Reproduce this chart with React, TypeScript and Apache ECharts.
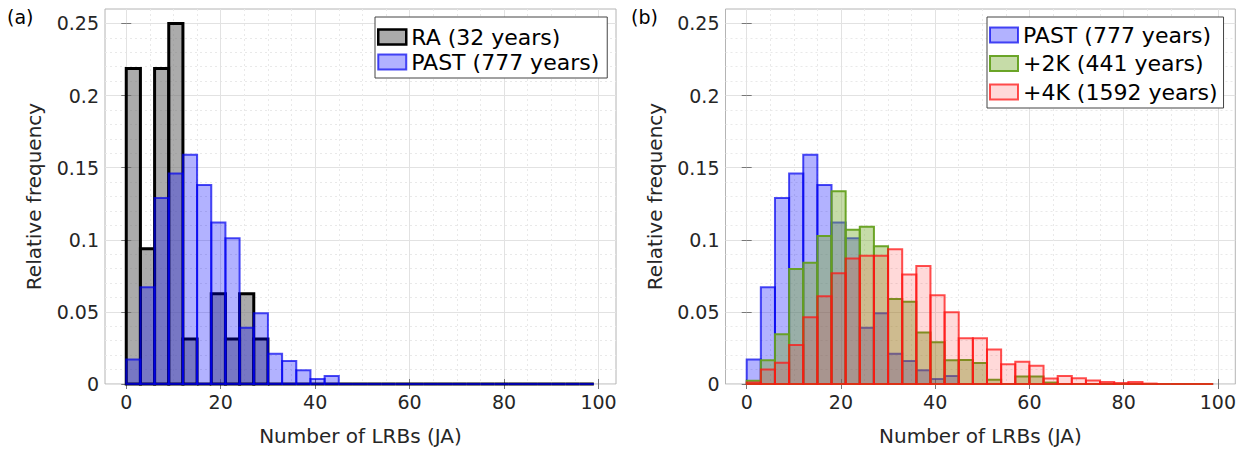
import React, { useEffect, useRef } from 'react';
import * as echarts from 'echarts';

// Bin width of the histograms (number of LRBs)
const BIN_WIDTH = 3;

// Panel (a)
const RA = [
  0.21875, 0.09375, 0.21875, 0.25, 0.03125, 0, 0.0625, 0.03125, 0.0625, 0.03125,
  0, 0, 0, 0, 0, 0, 0, 0, 0, 0, 0, 0, 0, 0, 0, 0, 0, 0, 0, 0, 0, 0, 0,
];
const PAST = [
  0.017, 0.067, 0.129, 0.146, 0.159, 0.138, 0.112, 0.101, 0.039, 0.049,
  0.021, 0.016, 0.0095, 0.0034, 0.0056, 0, 0, 0, 0, 0, 0, 0, 0, 0, 0, 0, 0, 0, 0, 0, 0, 0, 0,
];
// Panel (b)
const K2 = [
  0.0023, 0.0165, 0.0345, 0.0797, 0.0841, 0.1027, 0.1336, 0.107, 0.109, 0.0955,
  0.059, 0.057, 0.0357, 0.029, 0.0165, 0.0166, 0.0146, 0.003, 0, 0.0052,
  0.0052, 0.001, 0, 0, 0, 0, 0, 0, 0, 0, 0, 0, 0,
];
const K4 = [
  0.001, 0.0101, 0.0147, 0.027, 0.0463, 0.0608, 0.0768, 0.087, 0.089, 0.089,
  0.0935, 0.076, 0.0818, 0.0615, 0.0497, 0.0318, 0.0318, 0.0239, 0.0137, 0.0155,
  0.0126, 0.0038, 0.0056, 0.004, 0.0025, 0.0014, 0.0007, 0.0014, 0.0003, 0, 0, 0, 0,
];

const X_TICKS = [0, 20, 40, 60, 80, 100];
const X_MINOR = [5, 10, 15, 25, 30, 35, 45, 50, 55, 65, 70, 75, 85, 90, 95];
const Y_TICKS = [0, 0.05, 0.1, 0.15, 0.2, 0.25];
const Y_MINOR = [
  0.01, 0.02, 0.03, 0.04, 0.06, 0.07, 0.08, 0.09, 0.11, 0.12, 0.13, 0.14,
  0.16, 0.17, 0.18, 0.19, 0.21, 0.22, 0.23, 0.24,
];

const NAMES = {
  ra: 'RA (32 years)',
  past: 'PAST (777 years)',
  k2: '+2K (441 years)',
  k4: '+4K (1592 years)',
};

const X_MIN = -4.5;
const X_MAX = 103.7;
const Y_MIN = 0;
const Y_MAX = 0.26;

const FONT = 'DejaVu Sans';
const TXT = '#262626';

const STYLES = {
  ra: { fill: 'rgba(110,110,110,0.58)', stroke: '#000000', lw: 3 },
  past: { fill: 'rgba(0,0,255,0.3)', stroke: 'rgba(0,0,240,0.7)', lw: 2 },
  k2: { fill: 'rgba(119,172,48,0.42)', stroke: 'rgba(100,160,30,0.95)', lw: 2 },
  k4: { fill: 'rgba(255,0,0,0.15)', stroke: 'rgba(255,20,20,0.75)', lw: 2 },
};

const toBins = (vals: number[]) => vals.map((v, i) => [i * BIN_WIDTH, (i + 1) * BIN_WIDTH, v]);

const histSeries = (key: keyof typeof STYLES, name: string, vals: number[], axisIdx: number) => {
  const st = STYLES[key];
  return {
    type: 'custom',
    name,
    xAxisIndex: axisIdx,
    yAxisIndex: axisIdx,
    data: toBins(vals),
    encode: { x: [0, 1], y: 2 },
    itemStyle: { color: st.fill, borderColor: st.stroke, borderWidth: st.lw },
    renderItem: (params: any, api: any) => {
      const x0 = api.value(0);
      const x1 = api.value(1);
      const v = api.value(2);
      const a = api.coord([x0, v]);
      const b = api.coord([x1, 0]);
      return {
        type: 'polygon',
        shape: { points: [[a[0], b[1]], [a[0], a[1]], [b[0], a[1]], [b[0], b[1]]] },
        style: { fill: st.fill, stroke: st.stroke, lineWidth: st.lw, lineJoin: 'miter' },
      };
    },
  };
};

const axesFor = (gridIndex: number) => {
  const xs = [
    {
      type: 'value', gridIndex, min: X_MIN, max: X_MAX, position: 'bottom',
      name: 'Number of LRBs (JA)', nameLocation: 'middle', nameGap: 42,
      nameTextStyle: { fontFamily: FONT, fontSize: 20, color: TXT },
      axisLine: { show: false },
      axisTick: { show: true, inside: true, length: 5, customValues: X_TICKS, lineStyle: { color: '#777' } },
      axisLabel: { customValues: X_TICKS, fontFamily: FONT, fontSize: 19, color: TXT, margin: 8 },
      splitLine: { show: true, lineStyle: { color: '#e2e2e2', width: 1 } },
    },
    {
      type: 'value', gridIndex, min: X_MIN, max: X_MAX, position: 'top',
      axisLine: { show: false },
      axisTick: { show: false, customValues: X_MINOR },
      axisLabel: { show: false },
      splitLine: { show: true, lineStyle: { color: '#e9e9e9', width: 1, type: [2, 3] } },
    },
    {
      type: 'value', gridIndex, min: X_MIN, max: X_MAX, position: 'top',
      axisLine: { show: false },
      axisTick: { show: true, inside: true, length: 5, customValues: X_TICKS, lineStyle: { color: '#777' } },
      axisLabel: { show: false },
      splitLine: { show: false },
    },
  ];
  const ys = [
    {
      type: 'value', gridIndex, min: Y_MIN, max: Y_MAX, position: 'left',
      name: 'Relative frequency', nameLocation: 'middle', nameGap: 61,
      nameTextStyle: { fontFamily: FONT, fontSize: 20, color: TXT },
      axisLine: { show: false },
      axisTick: { show: true, inside: true, length: 5, customValues: Y_TICKS, lineStyle: { color: '#777' } },
      axisLabel: { customValues: Y_TICKS, fontFamily: FONT, fontSize: 19, color: TXT, margin: 6 },
      splitLine: { show: true, lineStyle: { color: '#e2e2e2', width: 1 } },
    },
    {
      type: 'value', gridIndex, min: Y_MIN, max: Y_MAX, position: 'left',
      axisLine: { show: false },
      axisTick: { show: false, customValues: Y_MINOR },
      axisLabel: { show: false },
      splitLine: { show: true, lineStyle: { color: '#e9e9e9', width: 1, type: [2, 3] } },
    },
    {
      type: 'value', gridIndex, min: Y_MIN, max: Y_MAX, position: 'right',
      axisLine: { show: false },
      axisTick: { show: true, inside: true, length: 5, customValues: Y_TICKS, lineStyle: { color: '#777' } },
      axisLabel: { show: false },
      splitLine: { show: false },
    },
  ];
  return { xs, ys };
};

const legendFor = (left: number, keys: (keyof typeof STYLES)[], names: string[], gap: number, pad: number[]) => ({
  orient: 'vertical',
  left,
  top: 17,
  icon: 'rect',
  itemWidth: 28,
  itemHeight: 15,
  itemGap: gap,
  padding: pad,
  selectedMode: false,
  backgroundColor: '#ffffff',
  borderColor: '#444444',
  borderWidth: 1,
  borderRadius: 0,
  textStyle: { fontFamily: FONT, fontSize: 22, color: '#000', lineHeight: 22 },
  data: keys.map((k, i) => ({
    name: names[i],
    itemStyle: { color: STYLES[k].fill, borderColor: STYLES[k].stroke, borderWidth: k === 'ra' ? 2.5 : 2 },
  })),
});

export default function App() {
  const ref = useRef<HTMLDivElement>(null);
  useEffect(() => {
    if (!ref.current) return;
    const chart = echarts.init(ref.current, undefined, { renderer: 'svg' });
    const a = axesFor(0);
    const b = axesFor(1);
    const option = {
      animation: false,
      backgroundColor: '#ffffff',
      grid: [
        { left: 105, top: 9, width: 511, height: 388, show: true, borderColor: '#b4b4b4', borderWidth: 1, backgroundColor: 'transparent', containLabel: false },
        { left: 725.5, top: 9, width: 511, height: 388, show: true, borderColor: '#b4b4b4', borderWidth: 1, backgroundColor: 'transparent', containLabel: false },
      ],
      xAxis: [...a.xs, ...b.xs],
      yAxis: [...a.ys, ...b.ys],
      legend: [
        legendFor(375, ['ra', 'past'], [NAMES.ra, NAMES.past], 3, [9, 8, 5, 2]),
        legendFor(987, ['past', 'k2', 'k4'], [NAMES.past, NAMES.k2, NAMES.k4], 6.5, [7, 6, 5, 2]),
      ],
      graphic: [
        { type: 'text', left: 7, top: 7, style: { text: '(a)', fontFamily: FONT, fontSize: 19, fill: '#000' } },
        { type: 'text', left: 631, top: 7, style: { text: '(b)', fontFamily: FONT, fontSize: 19, fill: '#000' } },
      ],
      series: [
        histSeries('ra', NAMES.ra, RA, 0),
        histSeries('past', NAMES.past, PAST, 0),
        histSeries('past', NAMES.past, PAST, 3),
        histSeries('k2', NAMES.k2, K2, 3),
        histSeries('k4', NAMES.k4, K4, 3),
      ],
    };
    chart.setOption(option as any);
    return () => chart.dispose();
  }, []);
  return (
    <div
      ref={ref}
      style={{ position: 'absolute', left: 0, top: 0, width: 1239, height: 451, background: '#fff' }}
    />
  );
}
